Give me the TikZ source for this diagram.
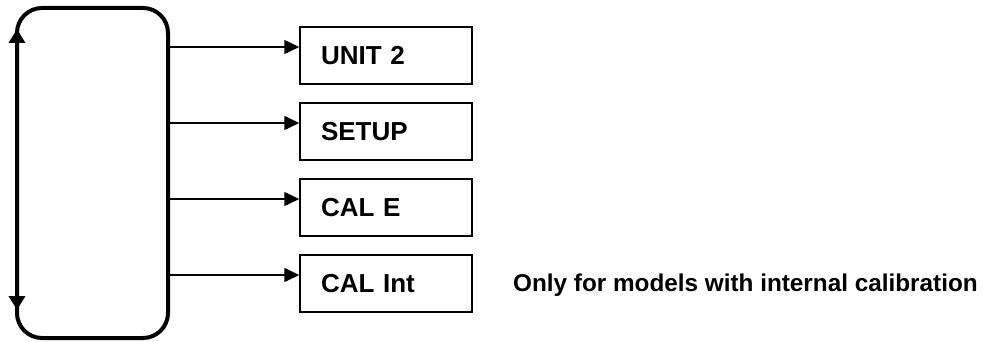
\documentclass[tikz,border=0pt]{standalone}
\usepackage{fontspec}
\setmainfont{Liberation Sans}
\usetikzlibrary{positioning,arrows.meta}

\begin{document}
\begin{tikzpicture}[x=1pt, y=-1pt,
  node distance=17.5pt,
  menu/.style={draw, line width=4pt, rounded corners=25pt, minimum width=151pt, minimum height=330pt, inner sep=0pt},
  box/.style={draw, line width=1.5pt, minimum width=172pt, minimum height=57pt, text width=130pt, inner xsep=21pt, align=left, font=\fontsize{26}{31}\selectfont\bfseries},
  note/.style={inner sep=0pt, font=\fontsize{24.3}{29}\selectfont\bfseries},
  arr/.style={-{Triangle[length=15pt, width=14pt]}, line width=1.5pt},
  darr/.style={{Triangle[length=14pt, width=16pt]}-{Triangle[length=14pt, width=16pt]}, line width=4pt}]
\useasboundingbox (0,0) rectangle (1003,342);
\node[menu] (menu) at (92.5,173) {};
\node[box] (unit) at (386,55.5) {UNIT 2};
\node[box, below=of unit] (setup) {SETUP};
\node[box, below=of setup] (cale) {CAL E};
\node[box, below=of cale] (calint) {CAL Int};
\node[note, anchor=base west] (note) at (513,291) {Only for models with internal calibration};
\coordinate (up) at (17,29);
\coordinate (down) at (17,310);
\draw[darr] (up) -- (down);
\foreach \b in {unit,setup,cale,calint} {
  \coordinate (in-\b) at ([yshift=8.5pt]\b.west);
  \draw[arr] (in-\b -| menu.east) -- (in-\b);
}
\end{tikzpicture}
\end{document}
